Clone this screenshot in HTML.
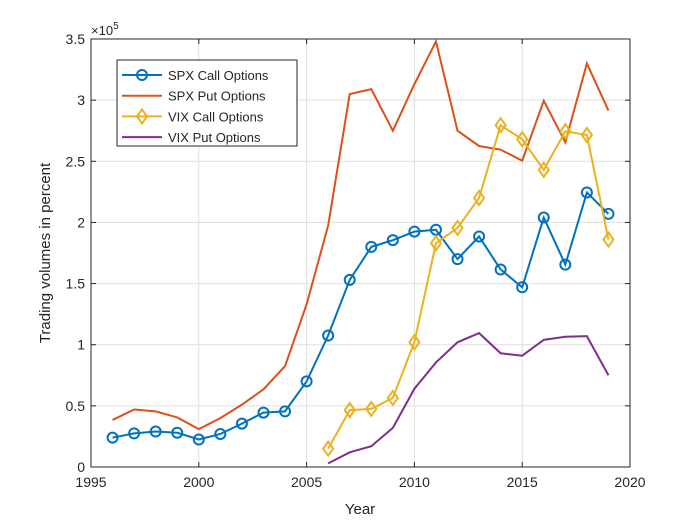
<!DOCTYPE html>
<html><head><meta charset="utf-8"><style>
body{margin:0;background:#fff}
svg text{font-family:"Liberation Sans",sans-serif;fill:#262626}
</style></head><body>
<svg id="chart" width="700" height="525" xmlns="http://www.w3.org/2000/svg">
<g id="grid"></g>
<g id="series"></g>
<g id="axes"></g>
<text x="360" y="514" text-anchor="middle" font-size="15">Year</text>
<text transform="translate(50,253) rotate(-90)" text-anchor="middle" font-size="15">Trading volumes in percent</text>
<text x="91" y="35" font-size="13">×10<tspan dy="-6" font-size="10">5</tspan></text>
<g id="legend"></g>
</svg>
<script>
const xTicks=[1995,2000,2005,2010,2015,2020];
const yTicks=[0,0.5,1,1.5,2,2.5,3,3.5];
const yTickLabels=["0","0.5","1","1.5","2","2.5","3","3.5"];
const spxYears=[1996,1997,1998,1999,2000,2001,2002,2003,2004,2005,2006,2007,2008,2009,2010,2011,2012,2013,2014,2015,2016,2017,2018,2019];
const spxCall=[0.24,0.275,0.29,0.28,0.225,0.27,0.355,0.445,0.455,0.70,1.075,1.53,1.80,1.855,1.925,1.94,1.70,1.885,1.615,1.47,2.04,1.655,2.245,2.07];
const spxPut=[0.385,0.47,0.455,0.405,0.31,0.40,0.51,0.635,0.825,1.33,1.975,3.05,3.09,2.75,3.13,3.48,2.75,2.625,2.595,2.505,2.995,2.655,3.30,2.915];
const vixYears=[2006,2007,2008,2009,2010,2011,2012,2013,2014,2015,2016,2017,2018,2019];
const vixCall=[0.15,0.465,0.475,0.565,1.02,1.83,1.955,2.20,2.795,2.68,2.43,2.745,2.715,1.86];
const vixPut=[0.03,0.12,0.17,0.32,0.64,0.855,1.02,1.095,0.93,0.91,1.04,1.065,1.07,0.75];
const seriesNames=["SPX Call Options","SPX Put Options","VIX Call Options","VIX Put Options"];
const L=91,R=630,T=39,B=467;
const xs=v=>L+(v-1995)/25*(R-L);
const ys=v=>B-v/3.5*(B-T);
const NS="http://www.w3.org/2000/svg";
function mk(tag,attrs,parent){const e=document.createElementNS(NS,tag);for(const k in attrs)e.setAttribute(k,attrs[k]);parent.appendChild(e);return e;}
const grid=document.getElementById('grid'),axes=document.getElementById('axes'),ser=document.getElementById('series'),leg=document.getElementById('legend');
mk('rect',{x:L,y:T,width:R-L,height:B-T,fill:'#fff'},grid);
xTicks.forEach(t=>{const x=xs(t);
 const g=mk('line',{x1:x,x2:x,y1:T,y2:B,stroke:'#dfdfdf','stroke-width':1},grid);
 
 mk('line',{x1:x,x2:x,y1:B,y2:B-5,stroke:'#262626'},axes);mk('line',{x1:x,x2:x,y1:T,y2:T+5,stroke:'#262626'},axes);
 const tx=mk('text',{x:x,y:B+20,'text-anchor':'middle','font-size':14},axes);tx.textContent=t;
 });
yTicks.forEach((t,i)=>{const y=ys(t);
 const g=mk('line',{x1:L,x2:R,y1:y,y2:y,stroke:'#dfdfdf','stroke-width':1},grid);
 
 mk('line',{x1:L,x2:L+5,y1:y,y2:y,stroke:'#262626'},axes);mk('line',{x1:R,x2:R-5,y1:y,y2:y,stroke:'#262626'},axes);
 const tx=mk('text',{x:L-6,y:y+5,'text-anchor':'end','font-size':14},axes);tx.textContent=yTickLabels[i];
 });
mk('rect',{x:L,y:T,width:R-L,height:B-T,fill:'none',stroke:'#262626','stroke-width':1},axes);
function marker(type,x,y,c,p){
 if(type==='o')return mk('circle',{cx:x,cy:y,r:5,fill:'none',stroke:c,'stroke-width':2},p);
 if(type==='d')return mk('polygon',{points:`${x},${y-7} ${x+5},${y} ${x},${y+7} ${x-5},${y}`,fill:'none',stroke:c,'stroke-width':2},p);
}
const defs=[[spxYears,spxCall,'#0072bd','o','spx-call-line'],[spxYears,spxPut,'#d95319',null,'spx-put-line'],[vixYears,vixCall,'#edb120','d','vix-call-line'],[vixYears,vixPut,'#7e2f8e',null,'vix-put-line']];
defs.forEach(([xv,yv,c,m,name])=>{
 const pts=xv.map((x,i)=>xs(x)+','+ys(yv[i])).join(' ');
 const pl=mk('polyline',{points:pts,fill:'none',stroke:c,'stroke-width':2},ser);
 
 if(m)xv.forEach((x,i)=>{const mm=marker(m,xs(x),ys(yv[i]),c,ser);
  });
});
mk('rect',{x:117,y:60,width:180,height:86,fill:'#fff',stroke:'#262626','stroke-width':1},leg);
defs.forEach(([xv,yv,c,m],i)=>{const y=75+i*20.7;
 const g=mk('g',{},leg);
 
 mk('line',{x1:122,x2:162,y1:y,y2:y,stroke:c,'stroke-width':2},g);
 if(m)marker(m,142,y,c,g);
 const t=mk('text',{x:168,y:y+5,'font-size':13},g);t.textContent=seriesNames[i];});
</script>
</body></html>
